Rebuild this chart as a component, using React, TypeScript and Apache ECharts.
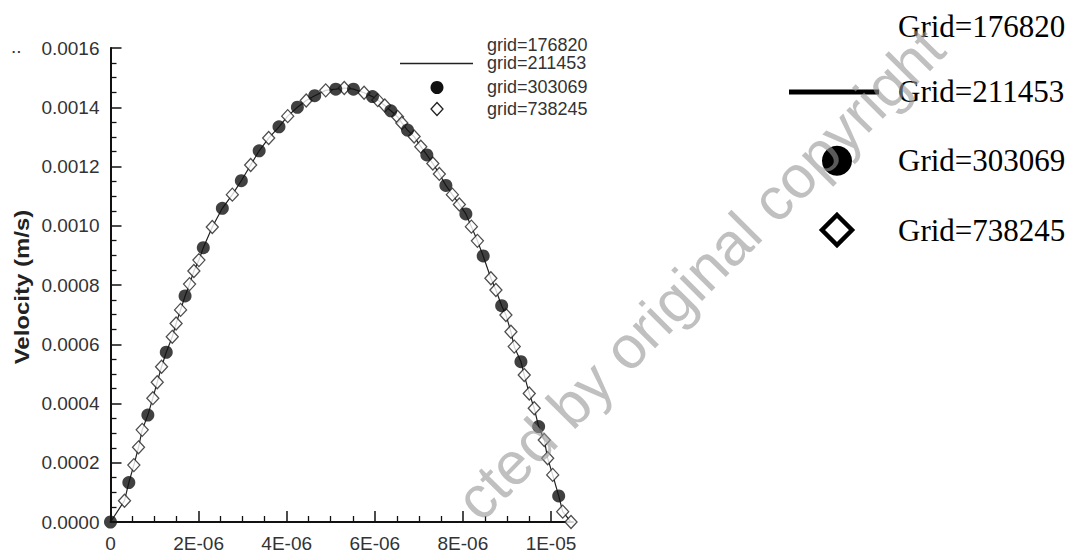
import React, { useEffect, useRef } from "react";
import * as echarts from "echarts";

// x in 1e-6 m, velocity in 1e-3 m/s
const X_UNIT = 1e-6;
const V_UNIT = 1e-3;

const SERIES_NAMES = ["grid=176820", "grid=211453", "grid=303069", "grid=738245"];
const RIGHT_LEGEND = ["Grid=176820", "Grid=211453", "Grid=303069", "Grid=738245"];
const WATERMARK = "cted by original copyright";

const DOTS_X = [0, 0.416, 0.848, 1.266, 1.693, 2.107, 2.539, 2.97, 3.375, 3.825, 4.243, 4.636, 5.114, 5.516, 5.948, 6.364, 6.743, 7.182, 7.614, 8.068, 8.461, 8.88, 9.318, 9.72, 10.175];
const DOTS_V = [0, 0.133, 0.361, 0.573, 0.763, 0.926, 1.059, 1.152, 1.253, 1.334, 1.4, 1.439, 1.461, 1.461, 1.436, 1.388, 1.323, 1.239, 1.136, 1.04, 0.898, 0.73, 0.541, 0.322, 0.088];

const DIAM_X = [0.318, 0.53, 0.636, 0.72, 0.961, 1.061, 1.159, 1.402, 1.489, 1.591, 1.795, 1.893, 2.007, 2.311, 2.766, 3.182, 3.591, 4.023, 4.443, 4.886, 5.307, 5.757, 6.068, 6.227, 6.516, 6.614, 6.893, 7.045, 7.318, 7.466, 7.761, 7.92, 8.193, 8.33, 8.636, 8.75, 8.977, 9.091, 9.166, 9.393, 9.507, 9.62, 9.848, 9.925, 10.039, 10.266, 10.455];
const DIAM_V = [0.072, 0.192, 0.252, 0.311, 0.418, 0.472, 0.524, 0.625, 0.67, 0.716, 0.803, 0.847, 0.884, 0.996, 1.105, 1.205, 1.296, 1.37, 1.423, 1.457, 1.465, 1.449, 1.424, 1.406, 1.368, 1.347, 1.301, 1.267, 1.21, 1.175, 1.105, 1.072, 0.997, 0.949, 0.823, 0.783, 0.699, 0.642, 0.592, 0.496, 0.434, 0.384, 0.277, 0.215, 0.159, 0.035, 0];

const X_MAJOR_TICKS = [0, 2, 4, 6, 8, 10];
const X_MAJOR_LABELS = ["0", "2E-06", "4E-06", "6E-06", "8E-06", "1E-05"];
const X_MINOR_TICKS = [0.5, 1, 1.5, 2.5, 3, 3.5, 4.5, 5, 5.5, 6.5, 7, 7.5, 8.5, 9, 9.5];

export default function App() {
  const ref = useRef<HTMLDivElement>(null);
  useEffect(() => {
    const chart = echarts.init(ref.current!, null, { renderer: "svg" });

    const dots = DOTS_X.map((x, i) => [x * X_UNIT, DOTS_V[i] * V_UNIT]);
    const diams = DIAM_X.map((x, i) => [x * X_UNIT, DIAM_V[i] * V_UNIT]);
    const line = [...dots, ...diams].sort((a, b) => a[0] - b[0]);

    const majorVals = X_MAJOR_TICKS.map((v) => v * X_UNIT);
    const minorVals = X_MINOR_TICKS.map((v) => v * X_UNIT);

    const tickColor = "#111";
    const labelFont = { fontSize: 19, fontFamily: "Liberation Sans", color: "#333" };

    const legendY = [45, 63.3, 87.3, 109.3];
    const rightY = [26.7, 91.7, 160, 230];

    const graphic: any[] = [
      {
        type: "text",
        x: 22,
        y: 287,
        rotation: Math.PI / 2,
        scaleX: 1.2,
        style: { text: "Velocity (m/s)", fontSize: 20, fontWeight: "bold", fontFamily: "Liberation Sans", fill: "#222", align: "center", verticalAlign: "middle" },
      },
      {
        type: "text",
        x: 11,
        y: 46.5,
        style: { text: "..", fontSize: 19, fontFamily: "Liberation Sans", fill: "#333", align: "left", verticalAlign: "middle" },
      },
      ...SERIES_NAMES.map((t, i) => ({
        type: "text",
        x: 487,
        y: legendY[i],
        style: { text: t, fontSize: 18, fontFamily: "Liberation Sans", fill: "#333", align: "left", verticalAlign: "middle" },
      })),
      { type: "line", shape: { x1: 400, y1: 63.5, x2: 473, y2: 63.5 }, style: { stroke: "#222", lineWidth: 1.3 } },
      { type: "circle", shape: { cx: 437, cy: 87.5, r: 6.5 }, style: { fill: "#111" } },
      {
        type: "polygon",
        shape: { points: [[437, 102.5], [443, 109], [437, 115.5], [431, 109]] },
        style: { fill: "#fff", stroke: "#222", lineWidth: 1.3 },
      },
      ...RIGHT_LEGEND.map((t, i) => ({
        type: "text",
        x: 898,
        y: rightY[i],
        style: { text: t, fontSize: 31, fontFamily: "Liberation Serif", fill: "#000", align: "left", verticalAlign: "middle" },
      })),
      { type: "line", shape: { x1: 789, y1: 92, x2: 879, y2: 92 }, style: { stroke: "#000", lineWidth: 5 } },
      { type: "circle", shape: { cx: 837, cy: 160.7, r: 15 }, style: { fill: "#000" } },
      {
        type: "polygon",
        shape: { points: [[837, 215], [852, 230], [837, 245], [822, 230]] },
        style: { fill: "#fff", stroke: "#000", lineWidth: 4.5 },
      },
      {
        type: "text",
        x: 700,
        y: 274,
        rotation: 0.79,
        z: 100,
        style: { text: WATERMARK, fontSize: 60, fontFamily: "Liberation Sans", fill: "rgba(150,150,150,0.6)", align: "center", verticalAlign: "middle" },
      },
    ];

    chart.setOption({
      animation: false,
      backgroundColor: "#fff",
      grid: { left: 110.5, right: 504, top: 48, bottom: 32 },
      xAxis: [
        {
          type: "value",
          min: 0,
          max: 10.5 * X_UNIT,
          axisLine: { show: true, onZero: false, lineStyle: { color: tickColor, width: 2 } },
          axisTick: { show: true, inside: true, length: 11, customValues: majorVals, lineStyle: { color: tickColor, width: 1.5 } },
          axisLabel: {
            ...labelFont,
            margin: 12,
            customValues: majorVals,
            formatter: (v: number) => {
              const idx = majorVals.findIndex((m) => Math.abs(m - v) < 1e-9 * X_UNIT);
              return idx >= 0 ? X_MAJOR_LABELS[idx] : "";
            },
          },
          splitLine: { show: false },
        },
        {
          type: "value",
          min: 0,
          max: 10.5 * X_UNIT,
          position: "bottom",
          offset: 0,
          axisLine: { show: false },
          axisTick: { show: true, inside: true, length: 6, customValues: minorVals, lineStyle: { color: tickColor, width: 1.3 } },
          axisLabel: { show: false },
          splitLine: { show: false },
        },
      ],
      yAxis: {
        type: "value",
        min: 0,
        max: 0.0016,
        interval: 0.0002,
        axisLine: { show: true, onZero: false, lineStyle: { color: tickColor, width: 2 } },
        axisTick: { show: true, inside: true, length: 11, lineStyle: { color: tickColor, width: 1.5 } },
        minorTick: { show: true, splitNumber: 4, length: 6, lineStyle: { color: tickColor, width: 1.3 } },
        axisLabel: { ...labelFont, margin: 11, formatter: (v: number) => v.toFixed(4) },
        splitLine: { show: false },
        minorSplitLine: { show: false },
      },
      series: [
        {
          name: SERIES_NAMES[1],
          type: "line",
          xAxisIndex: 0,
          data: line,
          showSymbol: false,
          symbol: "none",
          lineStyle: { color: "#222", width: 1.2 },
          z: 2,
        },
        {
          name: SERIES_NAMES[3],
          type: "scatter",
          xAxisIndex: 0,
          data: diams,
          symbol: "diamond",
          symbolSize: [12, 13],
          clip: false,
          itemStyle: { color: "#fff", borderColor: "#222", borderWidth: 1.3 },
          z: 3,
        },
        {
          name: SERIES_NAMES[2],
          type: "scatter",
          xAxisIndex: 0,
          data: dots,
          symbol: "circle",
          symbolSize: 13,
          clip: false,
          itemStyle: { color: "#111" },
          z: 4,
        },
      ],
      graphic,
    });
    return () => chart.dispose();
  }, []);
  return <div ref={ref} style={{ position: "fixed", left: 0, top: 0, width: 1077, height: 554, background: "#fff" }} />;
}
